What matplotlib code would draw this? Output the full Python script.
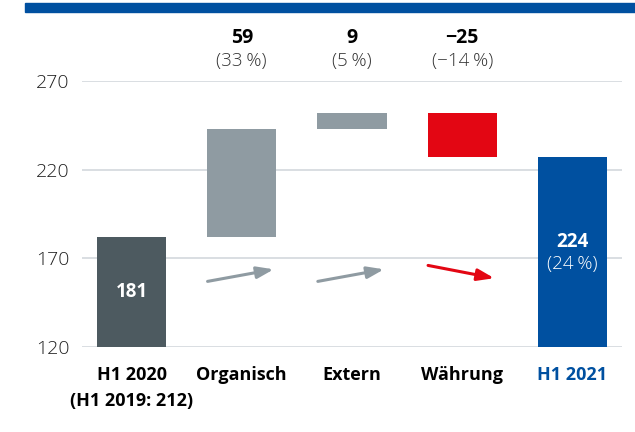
import matplotlib
matplotlib.use("Agg")
import matplotlib.pyplot as plt
from matplotlib.patches import Rectangle

plt.rcParams['font.family'] = ['Open Sans', 'DejaVu Sans']

# data (bar extents)
categories = ["H1 2020\n(H1 2019: 212)", "Organisch", "Extern", "Währung", "H1 2021"]
bar_bottom = [120, 182, 243, 227, 120]
bar_top = [182, 243, 252, 252, 227]
bar_colors = ["#4d5a60", "#8f9ba2", "#8f9ba2", "#e30613", "#0050a0"]
delta_labels = ["59", "9", "\u221225"]
delta_pct = ["(33\u2009%)", "(5\u2009%)", "(\u221214\u2009%)"]
start_label = "181"
end_label = "224"
end_pct = "(24\u2009%)"
yticks = [120, 170, 220, 270]

fig = plt.figure(figsize=(6.35, 4.32), dpi=100)
ax = fig.add_axes([82 / 635, 1 - 347 / 432, 540 / 635, 266 / 432])

x = list(range(len(categories)))
heights = [t - b for b, t in zip(bar_bottom, bar_top)]
ax.bar(x, heights, bottom=bar_bottom, width=0.626, color=bar_colors, zorder=3)

ax.set_ylim(120, 270)
ax.set_xlim(-0.449, 4.449)
ax.set_yticks(yticks)
ax.set_yticklabels([str(v) for v in yticks], fontsize=14, fontweight='light', color="#222222")
for s in ax.spines.values():
    s.set_visible(False)
ax.tick_params(axis='y', length=0, pad=9)
ax.tick_params(axis='x', length=0, pad=14)
ax.grid(axis='y', color="#d3d8dd", linewidth=1.2, zorder=0)

ax.set_xticks(x)
ax.set_xticklabels(categories, fontsize=13, fontweight='bold', linespacing=1.55)
ax.get_xticklabels()[-1].set_color("#0050a0")

# change labels above
for i in range(3):
    ax.text(x[i + 1], 294, delta_labels[i], ha='center', va='center',
            fontsize=14, fontweight='bold', clip_on=False)
    ax.text(x[i + 1], 281, delta_pct[i], ha='center', va='center',
            fontsize=13.5, fontweight='light', color="#333333", clip_on=False)

# labels inside bars
ax.text(x[0], 151, start_label, ha='center', va='center', fontsize=13.5,
        fontweight='bold', color='white', zorder=4)
ax.text(x[4], 179, end_label, ha='center', va='center', fontsize=13.5,
        fontweight='bold', color='white', zorder=4)
ax.text(x[4], 167, end_pct, ha='center', va='center', fontsize=13.5,
        fontweight='light', color='white', zorder=4)

# arrows
arrows = [(1, 157.0, 163.8, "#8f9ba2"), (2, 157.0, 163.8, "#8f9ba2"), (3, 166.0, 158.8, "#e30613")]
for xi, y0, y1, c in arrows:
    ax.annotate("", xy=(xi + 0.29, y1), xytext=(xi - 0.31, y0),
                arrowprops=dict(arrowstyle="-|>,head_length=1.0,head_width=0.35",
                                color=c, lw=2.2, shrinkA=0, shrinkB=0))

# top band
fig.patches.append(Rectangle((25 / 635, 1 - 12 / 432), 1, 9 / 432,
                             transform=fig.transFigure, color="#0050a0"))

fig.savefig("out.png", dpi=100)
